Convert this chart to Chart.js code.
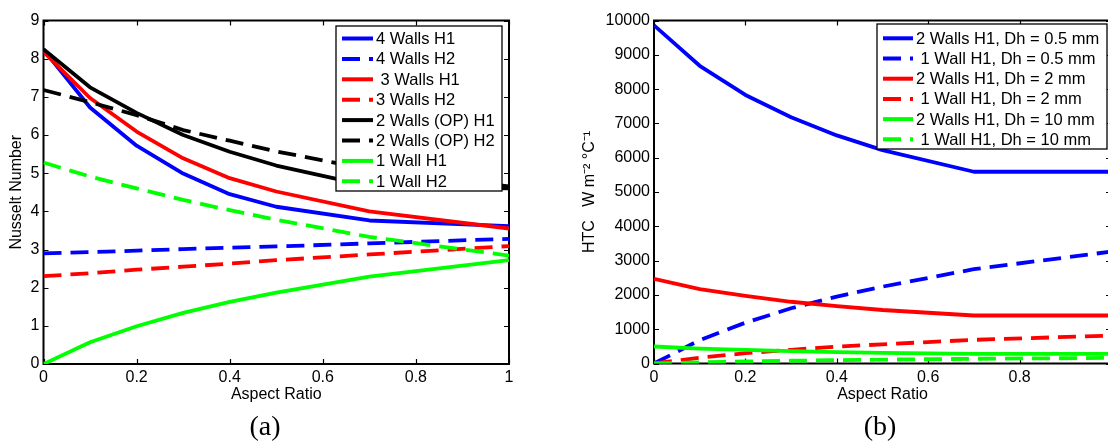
<!DOCTYPE html>
<html><head><meta charset="utf-8">
<script src="https://cdn.jsdelivr.net/npm/chart.js@4.4.1/dist/chart.umd.min.js"></script>
<style>
html,body{margin:0;padding:0;background:#fff;overflow:hidden;width:1108px;height:441px;position:relative;}
#wrapA{position:absolute;left:0;top:0;width:554px;height:441px;}
#wrapB{position:absolute;left:560px;top:0;width:560px;height:441px;}
.cap{position:absolute;font-family:"Liberation Serif","Times New Roman",serif;font-size:28px;color:#000;transform:translate(-50%,-50%);line-height:1;white-space:nowrap;}
</style></head><body>
<div id="wrapA"><canvas id="chartA" width="554" height="441"></canvas></div>
<div id="wrapB"><canvas id="chartB" width="560" height="441"></canvas></div>
<div class="cap" style="left:265px;top:426px">(a)</div>
<div class="cap" style="left:880px;top:426px">(b)</div>
<script>
// ---------- data ----------
const aspectRatio = [0, 0.1, 0.2, 0.3, 0.4, 0.5, 0.7, 1.0];

// Panel (a): Nusselt number
const nu4WallsH1   = [8.235, 6.72, 5.72, 4.99, 4.45, 4.12, 3.76, 3.61];
const nu4WallsH2   = [2.90, 2.93, 2.97, 3.01, 3.05, 3.08, 3.16, 3.28];
const nu3WallsH1   = [8.18, 6.97, 6.09, 5.39, 4.87, 4.52, 4.00, 3.55];
const nu3WallsH2   = [2.30, 2.38, 2.47, 2.55, 2.63, 2.72, 2.87, 3.09];
const nu2WallsOPH1 = [8.25, 7.25, 6.58, 6.00, 5.56, 5.20, 4.66, 4.60];
const nu2WallsOPH2 = [7.18, 6.86, 6.52, 6.13, 5.85, 5.57, 5.10, 4.65];
const nu1WallH1    = [0, 0.57, 0.99, 1.34, 1.63, 1.87, 2.29, 2.72];
const nu1WallH2    = [5.28, 4.91, 4.60, 4.30, 4.03, 3.78, 3.33, 2.84];
const labelsA = ['4 Walls H1', '4 Walls H2', ' 3 Walls H1', '3 Walls H2',
                 '2 Walls (OP) H1', '2 Walls (OP) H2', '1 Wall H1', '1 Wall H2'];

// Panel (b): heat transfer coefficient
const htc2WallsDh05 = [9860, 8680, 7830, 7180, 6650, 6220, 5590, 5590];
const htc1WallDh05  = [0, 680, 1190, 1610, 1950, 2240, 2750, 3260];
const htc2WallsDh2  = [2470, 2170, 1970, 1800, 1670, 1560, 1400, 1400];
const htc1WallDh2   = [0, 170, 300, 400, 490, 560, 690, 815];
const htc2WallsDh10 = [495, 435, 395, 360, 333, 312, 280, 280];
const htc1WallDh10  = [0, 34, 60, 80, 98, 112, 138, 163];
const labelsB = ['2 Walls H1, Dh = 0.5 mm', ' 1 Wall H1, Dh = 0.5 mm',
                 '2 Walls H1, Dh = 2 mm', ' 1 Wall H1, Dh = 2 mm',
                 '2 Walls H1, Dh = 10 mm', ' 1 Wall H1, Dh = 10 mm'];

// ---------- styling ----------
Chart.defaults.font.family = '"Liberation Sans", Arial, Helvetica, sans-serif';
Chart.defaults.font.size = 16;
Chart.defaults.color = '#000';

const BLUE = '#0000ff', RED = '#ff0000', BLACK = '#000000', GREEN = '#00ff00';
const DASH = [18, 9];

function ds(label, values, color, dashed, i) {
  return {
    label: label,
    data: aspectRatio.map((x, k) => ({x: x, y: values[k]})),
    borderColor: color, backgroundColor: color,
    borderWidth: 3.8, borderDash: dashed ? DASH : [],
    borderCapStyle: 'butt', borderJoinStyle: 'round',
    pointRadius: 0, pointHoverRadius: 0, fill: false, tension: 0,
    order: -i
  };
}

const matlabAxes = {
  id: 'matlabAxes',
  beforeDatasetsDraw(chart) {
    const {ctx, chartArea: {left, right, top, bottom}, scales: {x, y}} = chart;
    ctx.save();
    ctx.strokeStyle = '#000';
    ctx.lineWidth = 1.2;
    const tl = 5;
    ctx.beginPath();
    x.ticks.forEach(t => {
      const px = Math.round(x.getPixelForValue(t.value)) + 0.5;
      ctx.moveTo(px, bottom); ctx.lineTo(px, bottom - tl);
      ctx.moveTo(px, top); ctx.lineTo(px, top + tl);
    });
    y.ticks.forEach(t => {
      const py = Math.round(y.getPixelForValue(t.value)) + 0.5;
      ctx.moveTo(left, py); ctx.lineTo(left + tl, py);
      ctx.moveTo(right, py); ctx.lineTo(right - tl, py);
    });
    ctx.stroke();
    ctx.lineWidth = 2;
    ctx.strokeRect(left, top, right - left, bottom - top);
    ctx.restore();
  }
};

const matlabLegend = {
  id: 'matlabLegend',
  afterDatasetsDraw(chart, args, o) {
    const ctx = chart.ctx;
    ctx.save();
    ctx.fillStyle = '#fff';
    ctx.fillRect(o.left, o.top, o.width, o.height);
    ctx.strokeStyle = '#000';
    ctx.lineWidth = 1.3;
    ctx.strokeRect(o.left, o.top, o.width, o.height);
    chart.data.datasets.forEach((d, i) => {
      const yy = o.firstRow + i * o.rowH;
      ctx.beginPath();
      ctx.setLineDash(d.borderDash);
      ctx.lineWidth = 4;
      ctx.lineCap = 'butt';
      ctx.strokeStyle = d.borderColor;
      ctx.moveTo(o.sampleX, yy);
      ctx.lineTo(o.sampleX + o.sampleW, yy);
      ctx.stroke();
      ctx.setLineDash([]);
      ctx.fillStyle = '#000';
      ctx.font = o.font;
      ctx.textAlign = 'left';
      ctx.textBaseline = 'middle';
      ctx.fillText(d.label, o.textX, yy + 1);
    });
    ctx.restore();
  }
};

function baseX(hideOne, h) {
  return {
    type: 'linear', min: 0, max: 1,
    ticks: {stepSize: 0.2, padding: 4, maxRotation: 0, autoSkip: false,
            callback: (v) => (hideOne && v === 1) ? '' : String(Math.round(v * 10) / 10)},
    grid: {display: false, drawTicks: false}, border: {display: false},
    title: {display: true, text: 'Aspect Ratio', font: {size: 16}, padding: {top: 0, bottom: 37}},
    afterFit(s) { s.height = h; }
  };
}

// ---------- chart (a) ----------
new Chart(document.getElementById('chartA'), {
  type: 'line',
  data: {
    datasets: [
      ds(labelsA[0], nu4WallsH1, BLUE, false, 0),
      ds(labelsA[1], nu4WallsH2, BLUE, true, 1),
      ds(labelsA[2], nu3WallsH1, RED, false, 2),
      ds(labelsA[3], nu3WallsH2, RED, true, 3),
      ds(labelsA[4], nu2WallsOPH1, BLACK, false, 4),
      ds(labelsA[5], nu2WallsOPH2, BLACK, true, 5),
      ds(labelsA[6], nu1WallH1, GREEN, false, 6),
      ds(labelsA[7], nu1WallH2, GREEN, true, 7)
    ]
  },
  options: {
    responsive: false, animation: false, devicePixelRatio: 1,
    layout: {padding: {left: 0, right: 45, top: 20.5, bottom: 0}},
    plugins: {
      legend: {display: false}, tooltip: {enabled: false},
      matlabLegend: {left: 336, top: 26, width: 166, height: 165, firstRow: 38.5, rowH: 20.4,
                     sampleX: 342, sampleW: 31, textX: 376, font: '16.5px "Liberation Sans", Arial, sans-serif'}
    },
    scales: {
      x: baseX(false, 77),
      y: {
        min: 0, max: 9,
        ticks: {stepSize: 1, padding: 4},
        grid: {display: false, drawTicks: false}, border: {display: false},
        title: {display: true, text: 'Nusselt Number', font: {size: 16}, padding: {top: 7.4, bottom: 0}},
        afterFit(s) { s.width = 43.5; }
      }
    }
  },
  plugins: [matlabAxes, matlabLegend]
});

// ---------- chart (b) ----------
new Chart(document.getElementById('chartB'), {
  type: 'line',
  data: {
    datasets: [
      ds(labelsB[0], htc2WallsDh05, BLUE, false, 0),
      ds(labelsB[1], htc1WallDh05, BLUE, true, 1),
      ds(labelsB[2], htc2WallsDh2, RED, false, 2),
      ds(labelsB[3], htc1WallDh2, RED, true, 3),
      ds(labelsB[4], htc2WallsDh10, GREEN, false, 4),
      ds(labelsB[5], htc1WallDh10, GREEN, true, 5)
    ]
  },
  options: {
    responsive: false, animation: false, devicePixelRatio: 1,
    layout: {padding: {left: 0, right: 9, top: 20.5, bottom: 0}},
    plugins: {
      legend: {display: false}, tooltip: {enabled: false},
      matlabLegend: {left: 317, top: 24, width: 230, height: 125, firstRow: 38.3, rowH: 20.2,
                     sampleX: 323, sampleW: 30, textX: 356, font: '16.5px "Liberation Sans", Arial, sans-serif'}
    },
    scales: {
      x: baseX(true, 77.5),
      y: {
        min: 0, max: 10000,
        ticks: {stepSize: 1000, padding: 4, callback: (v) => String(v)},
        grid: {display: false, drawTicks: false}, border: {display: false},
        title: {display: true, text: 'HTC   W m\u207B\u00B2 \u00B0C\u207B\u00B9', font: {size: 16}, padding: {top: 20.4, bottom: 0}},
        afterFit(s) { s.width = 94; }
      }
    }
  },
  plugins: [matlabAxes, matlabLegend]
});
</script>
</body></html>
